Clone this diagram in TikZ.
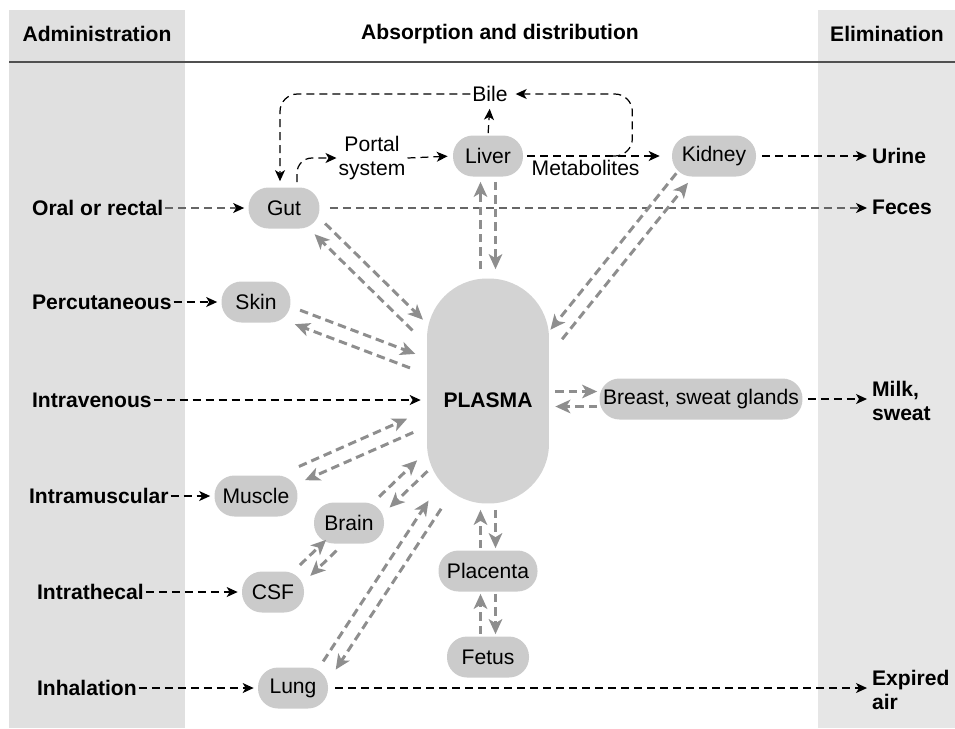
\documentclass[tikz,border=0pt]{standalone}
\usepackage{fontspec}
\setmainfont{Liberation Sans}
\usetikzlibrary{arrows.meta,calc,positioning}
\definecolor{colgray}{HTML}{E0E0E0}
\definecolor{colgraylight}{HTML}{E6E6E6}
\definecolor{pillgray}{HTML}{CBCBCB}
\definecolor{plasmagray}{HTML}{D3D3D3}
\definecolor{flowgray}{HTML}{8E8E8E}
\definecolor{rulegray}{HTML}{505050}
\newcommand{\pairgap}{0.15cm}
% two parallel dashed arrows, one each way: [offset]{from}{to}{cut at from}{cut at to}
\newcommand{\twoway}[5][\pairgap]{%
  \coordinate (tw-a) at ($(#2)!#4!(#3)$);
  \coordinate (tw-b) at ($(#3)!#5!(#2)$);
  \draw[gflow] ($(tw-a)!#1!90:(tw-b)$) -- ($(tw-b)!#1!-90:(tw-a)$);
  \draw[gflow] ($(tw-b)!#1!90:(tw-a)$) -- ($(tw-a)!#1!-90:(tw-b)$);
}

\begin{document}
\begin{tikzpicture}[x=0.02cm, y=-0.02cm, font=\fontsize{12}{13.5}\selectfont,
  organ/.style={fill=pillgray, rounded corners=0.4cm, minimum height=0.82cm, inner sep=1pt},
  route/.style={font=\fontsize{12}{13.5}\selectfont\bfseries, anchor=west, inner sep=1pt},
  sink/.style={font=\fontsize{12}{13.5}\selectfont\bfseries, anchor=west, align=left, inner sep=1pt},
  head/.style={font=\fontsize{12}{13.5}\selectfont\bfseries},
  bflow/.style={draw=black, line width=0.7pt, dash pattern=on 0.16cm off 0.1cm,
    -{Stealth[length=0.22cm, width=0.2cm, inset=0.06cm]}},
  oflow/.style={bflow, draw=black!60, -{Stealth[length=0.22cm, width=0.2cm, inset=0.06cm, color=black]}},
  gflow/.style={draw=flowgray, line width=1.7pt, dash pattern=on 0.17cm off 0.1cm,
    -{Stealth[length=0.3cm, width=0.27cm, inset=0.08cm]}}]
\useasboundingbox (0,0) rectangle (955,728);

% Columns and header
\fill[colgray] (9,10) rectangle (185,728);
\fill[colgraylight] (818,10) rectangle (955,728);
\draw[rulegray, line width=1.2pt] (9,62) -- (955,62);
\node[head] (hadmin) at (97,34) {Administration};
\node[head] (habs) at (500,34) {Absorption and distribution};
\node[head] (helim) at (887,34) {Elimination};

% Body compartments
\node[fill=plasmagray, rounded corners=1.2cm, minimum width=2.44cm, minimum height=4.5cm] (plasma) at (488,391) {};
\node[font=\fontsize{12}{13.5}\selectfont\bfseries] (plasmatext) at (488,400) {PLASMA};
\node[organ, minimum width=1.42cm] (gut) at (284,208) {Gut};
\node[organ, minimum width=1.40cm] (liver) at (488,156) {Liver};
\node[organ, minimum width=1.68cm] (kidney) at (714,156) {Kidney};
\node[organ, minimum width=1.38cm] (skin) at (256,302) {Skin};
\node[organ, minimum width=4.06cm] (breast) at (701,399) {Breast, sweat glands};
\node[organ, minimum width=1.66cm] (muscle) at (256,496) {Muscle};
\node[organ, minimum width=1.40cm] (brain) at (349,523) {Brain};
\node[organ, minimum width=1.24cm] (csf) at (273,592) {CSF};
\node[organ, minimum width=1.40cm] (lung) at (293,688) {Lung};
\node[organ, minimum width=1.98cm] (placenta) at (488,571) {Placenta};
\node[organ, minimum width=1.64cm] (fetus) at (488,657) {Fetus};
\node[inner sep=1pt] (bile) at (490,94) {Bile};
\node[align=center, inner sep=1pt] (portal) at (372,158) {Portal\\system};

% Routes in
\node[route] (oral) at (30,208) {Oral or rectal};
\node[route] (percut) at (30,302) {Percutaneous};
\node[route] (iv) at (30,400) {Intravenous};
\node[route] (im) at (27,496) {Intramuscular};
\node[route] (ith) at (35,592) {Intrathecal};
\node[route] (inhal) at (35,688) {Inhalation};

% Routes out
\node[sink] (urine) at (870,156) {Urine};
\node[sink] (feces) at (870,207) {Feces};
\node[sink] (milk) at (870,401) {Milk,\\sweat};
\node[sink] (expired) at (870,690) {Expired\\air};

% Administration
\draw[oflow, shorten >=0.08cm] (oral.east) -- (gut.west);
\draw[bflow, shorten >=0.08cm] (percut.east) -- (skin.west);
\draw[bflow, shorten >=0.12cm] (iv.east) -- (iv.east -| plasma.west);
\draw[bflow, shorten >=0.08cm] (im.east) -- (muscle.west);
\draw[bflow, shorten >=0.08cm] (ith.east) -- (csf.west);
\draw[bflow, shorten >=0.08cm] (inhal.east) -- (lung.west);

% Elimination
\draw[oflow, shorten <=0.2cm, shorten >=0.06cm] (gut.east) -- (gut.east -| feces.west);
\draw[bflow, shorten <=0.12cm, shorten >=0.06cm] (kidney.east) -- (urine.west);
\draw[bflow, shorten <=0.1cm, shorten >=0.06cm] (breast.east) -- (breast.east -| milk.west);
\draw[bflow, shorten <=0.14cm, shorten >=0.06cm] (lung.east) -- (lung.east -| expired.west);

% Liver, bile and portal system
\draw[bflow, shorten <=0.04cm, shorten >=0.1cm] (liver.north) -- (bile.south);
\draw[bflow, rounded corners=0.35cm, shorten >=0.12cm] (bile.west) -| ([xshift=-0.08cm]gut.north);
\draw[bflow, rounded corners=0.3cm, shorten <=0.1cm] ([xshift=0.26cm]gut.north) |- (portal.west);
\draw[bflow, shorten >=0.1cm] (portal.east) -- (liver.west);
\draw[bflow, shorten <=0.08cm, shorten >=0.24cm] (liver.east) --
  node[pos=0.42, below=1pt, inner sep=1pt] (metab) {Metabolites}
  coordinate[pos=0.6] (split) (kidney.west);
\draw[bflow, rounded corners=0.35cm, shorten >=0.12cm] (split) -- ++(20,0) |- (bile.east);

% Exchange with plasma
\twoway{gut.south east}{plasma.137}{0cm}{0.25cm}
\twoway{skin.-20}{plasma.158}{0.14cm}{0.3cm}
\twoway{liver.south}{plasma.north}{0.1cm}{0.18cm}
\twoway[-\pairgap]{kidney.214}{plasma.38}{0.03cm}{0.22cm}
\twoway{breast.west}{breast.west -| plasma.east}{0.04cm}{0.12cm}
\twoway{muscle.north east}{plasma.204}{0.09cm}{0.36cm}
\twoway{brain.north east}{plasma.229}{0cm}{0.12cm}
\twoway{csf.north east}{brain.232}{0.02cm}{0.04cm}
\twoway{lung.north east}{plasma.245}{0.04cm}{0.02cm}
\twoway{placenta.north}{plasma.south}{0.04cm}{0.12cm}
\twoway{fetus.north}{placenta.south}{0.04cm}{0.04cm}
\end{tikzpicture}
\end{document}
